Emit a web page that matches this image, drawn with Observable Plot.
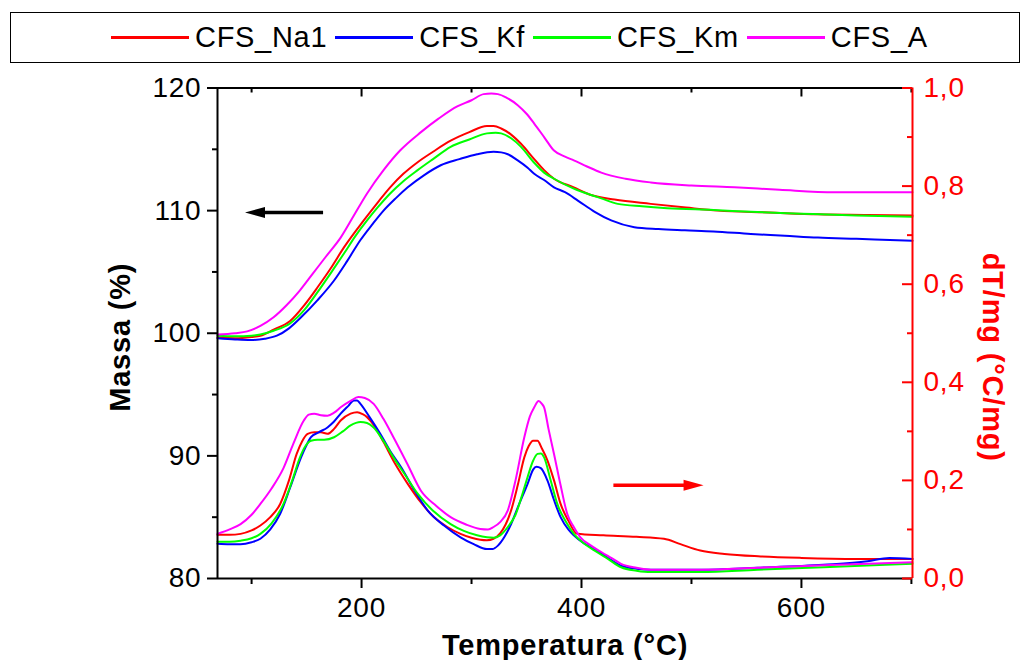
<!DOCTYPE html>
<html>
<head>
<meta charset="utf-8">
<script src="https://cdn.jsdelivr.net/npm/d3@7"></script>
<script src="https://cdn.jsdelivr.net/npm/@observablehq/plot@0.6"></script>
<style>
  html, body { margin: 0; padding: 0; background: #fff; width: 1020px; height: 660px; overflow: hidden; }
  body { position: relative; font-family: "Liberation Sans", Arial, sans-serif; }
  #legend { position: absolute; left: 10px; top: 12px; width: 1010px; height: 51px; box-sizing: border-box;
            border: 1px solid #000; display: flex; align-items: center; padding-left: 100px; }
  .item { display: flex; align-items: center; margin-right: 8px; }
  .sw { width: 78px; height: 3px; margin-right: 6px; }
  .lb { font-size: 29px; color: #000; line-height: 1; letter-spacing: 0.7px; }
  #chart { position: absolute; left: 0; top: 70px; }
  #chart svg text { letter-spacing: 0.8px; }
</style>
</head>
<body>
<div id="legend"></div>
<div id="chart"></div>
<script>
// ---- Data ----
const seriesNames = ["CFS_Na1", "CFS_Kf", "CFS_Km", "CFS_A"];
const seriesColors = ["#ff0000", "#0000ff", "#00ff00", "#ff00ff"];

// Mass (%) vs temperature (°C)  — left axis
const massNa1 = [[69,99.65],[85,99.6],[100,99.7],[108,99.8],[120,100.3],[135,101.0],[148,102.3],[160,103.75],[172,105.3],[184,107.0],[202,109.2],[215,110.7],[226,111.9],[238,113.0],[251,113.95],[265,114.8],[281,115.7],[298,116.4],[314,116.9],[320,116.9],[327,116.7],[336,116.2],[345,115.45],[357,114.2],[366,113.3],[375,112.6],[393,111.9],[408,111.3],[430,110.9],[463,110.55],[495,110.25],[524,110.0],[570,109.85],[615,109.7],[660,109.65],[701,109.6]];
const massKf = [[69,99.6],[85,99.5],[99,99.45],[112,99.55],[123,99.8],[134,100.4],[145,101.3],[160,102.7],[175,104.3],[187,105.9],[199,107.6],[210,108.9],[220,110.0],[231,111.0],[242,111.9],[257,112.9],[272,113.7],[289,114.2],[305,114.6],[320,114.8],[327,114.75],[333,114.6],[342,114.1],[351,113.5],[357,113.0],[366,112.5],[375,111.9],[385,111.5],[397,110.8],[412,109.9],[427,109.2],[448,108.65],[470,108.5],[494,108.4],[520,108.3],[554,108.1],[585,107.95],[615,107.8],[650,107.7],[701,107.55]];
const massKm = [[69,99.8],[85,99.75],[100,99.8],[108,99.9],[120,100.2],[135,100.8],[148,101.9],[160,103.35],[172,104.9],[184,106.5],[195,108.0],[205,109.2],[215,110.3],[226,111.4],[238,112.4],[251,113.3],[265,114.2],[281,115.2],[298,115.8],[314,116.3],[322,116.35],[327,116.3],[336,115.9],[345,115.2],[357,113.9],[366,113.1],[375,112.6],[393,111.8],[408,111.3],[418,111.0],[433,110.55],[455,110.35],[478,110.2],[520,110.05],[554,109.9],[600,109.75],[650,109.6],[701,109.5]];
const massA = [[69,99.9],[85,100.0],[96,100.15],[108,100.6],[120,101.3],[132,102.3],[144,103.5],[156,104.9],[168,106.3],[181,107.8],[193,109.6],[205,111.4],[220,113.3],[235,114.9],[254,116.4],[270,117.5],[287,118.5],[300,119.0],[311,119.5],[318,119.55],[324,119.5],[332,119.2],[342,118.6],[350,117.9],[357,117.1],[366,116.0],[375,114.9],[385,114.4],[393,114.1],[405,113.6],[418,113.1],[440,112.6],[463,112.3],[500,112.05],[539,111.9],[580,111.7],[630,111.5],[701,111.5]];

// dT/mg (°C/mg) vs temperature (°C) — right axis
const dtaNa1 = [[69,0.089],[80,0.089],[90,0.091],[100,0.098],[108,0.108],[117,0.125],[126,0.152],[134,0.2],[141,0.254],[146,0.28],[151,0.295],[157,0.298],[163,0.298],[169,0.295],[175,0.305],[181,0.322],[190,0.336],[196,0.339],[201,0.335],[205,0.329],[212,0.31],[220,0.278],[230,0.236],[242,0.193],[254,0.155],[266,0.125],[278,0.105],[290,0.091],[300,0.083],[308,0.079],[314,0.078],[320,0.081],[326,0.092],[331,0.11],[336,0.139],[342,0.19],[348,0.247],[352,0.27],[356,0.281],[360,0.281],[364,0.265],[369,0.241],[375,0.2],[381,0.152],[388,0.118],[396,0.091],[420,0.088],[450,0.085],[475,0.081],[490,0.07],[508,0.057],[530,0.05],[563,0.045],[600,0.042],[650,0.04],[701,0.04]];
const dtaKf = [[69,0.071],[80,0.07],[90,0.07],[100,0.074],[108,0.081],[117,0.1],[126,0.132],[135,0.185],[145,0.247],[150,0.272],[154,0.288],[161,0.298],[169,0.308],[175,0.32],[181,0.336],[188,0.352],[193,0.363],[196,0.363],[199,0.356],[207,0.33],[217,0.295],[226,0.26],[236,0.227],[248,0.18],[260,0.139],[275,0.108],[290,0.084],[302,0.07],[314,0.06],[319,0.06],[324,0.067],[330,0.085],[336,0.111],[343,0.15],[351,0.193],[356,0.222],[359,0.228],[363,0.225],[369,0.2],[375,0.16],[381,0.125],[388,0.1],[393,0.088],[402,0.072],[412,0.06],[424,0.042],[436,0.026],[450,0.02],[463,0.018],[509,0.018],[560,0.022],[620,0.028],[660,0.035],[680,0.042],[701,0.04]];
const dtaKm = [[69,0.075],[80,0.075],[90,0.077],[100,0.082],[108,0.091],[118,0.112],[129,0.152],[137,0.2],[144,0.247],[149,0.27],[154,0.281],[160,0.283],[166,0.283],[175,0.288],[183,0.3],[190,0.312],[199,0.319],[205,0.317],[211,0.308],[220,0.28],[229,0.247],[240,0.21],[251,0.173],[265,0.138],[281,0.111],[293,0.097],[305,0.088],[314,0.084],[320,0.083],[326,0.088],[333,0.105],[340,0.13],[346,0.17],[351,0.207],[356,0.24],[360,0.254],[363,0.255],[366,0.247],[372,0.2],[378,0.152],[386,0.115],[393,0.091],[402,0.072],[412,0.057],[424,0.04],[436,0.023],[450,0.016],[463,0.013],[509,0.013],[560,0.018],[620,0.023],[701,0.03]];
const dtaA = [[69,0.091],[80,0.1],[90,0.111],[100,0.13],[108,0.152],[118,0.183],[129,0.225],[138,0.275],[147.5,0.322],[152,0.334],[157,0.336],[163,0.333],[169,0.332],[175,0.338],[181,0.349],[190,0.362],[197,0.37],[203,0.368],[211,0.356],[220,0.325],[229,0.288],[242,0.232],[254,0.179],[268,0.148],[281,0.125],[295,0.11],[308,0.101],[315,0.1],[320,0.105],[326,0.115],[333,0.139],[340,0.2],[348,0.288],[353,0.33],[357,0.349],[361,0.362],[364,0.356],[366,0.349],[370,0.305],[375,0.254],[381,0.19],[387,0.132],[393,0.105],[399,0.084],[408,0.068],[418,0.054],[427,0.042],[436,0.03],[450,0.022],[463,0.018],[509,0.018],[560,0.022],[620,0.027],[701,0.033]];

// Axes
const xDomain = [69, 701];
const massDomain = [80, 120];
const dtaDomain = [0, 1];
const xMajorTicks = [200, 400, 600];
const xMinorTicks = [100, 300, 500, 700];
const massMajorTicks = [80, 90, 100, 110, 120];
const massMinorTicks = [85, 95, 105, 115];
const dtaMajorTicks = [0, 0.2, 0.4, 0.6, 0.8, 1.0];
const dtaMinorTicks = [0.1, 0.3, 0.5, 0.7, 0.9];
const xLabel = "Temperatura (°C)";
const massLabel = "Massa (%)";
const dtaLabel = "dT/mg (°C/mg)";

// Annotation arrows (data units): black → mass axis, red → dT axis
const massArrow = [{from: 165, to: 94, value: 109.85}];
const dtaArrow = [{from: 429, to: 511, value: 0.19}];

// ---- Build ----
const toMassScale = v => massDomain[0] + (v - dtaDomain[0]) / (dtaDomain[1] - dtaDomain[0]) * (massDomain[1] - massDomain[0]);
const fromMassScale = y => dtaDomain[0] + (y - massDomain[0]) / (massDomain[1] - massDomain[0]) * (dtaDomain[1] - dtaDomain[0]);

const massSeries = [massNa1, massKf, massKm, massA];
const dtaSeries = [dtaNa1, dtaKf, dtaKm, dtaA];
const rows = [];
seriesNames.forEach((name, i) => {
  massSeries[i].forEach(([t, v]) => rows.push({series: name, kind: "mass", T: t, y: v}));
  dtaSeries[i].forEach(([t, v]) => rows.push({series: name, kind: "dta", T: t, y: toMassScale(v)}));
});

const arrows = [
  ...massArrow.map(a => ({x1: a.from, x2: a.to, y: a.value, color: "#000000", dir: -90})),
  ...dtaArrow.map(a => ({x1: a.from, x2: a.to, y: toMassScale(a.value), color: "#ff0000", dir: 90}))
];

// legend
const legend = document.getElementById("legend");
seriesNames.forEach((n, i) => {
  const it = document.createElement("div");
  it.className = "item";
  it.innerHTML = `<div class="sw" style="background:${seriesColors[i]}"></div><span class="lb">${n}</span>`;
  legend.appendChild(it);
});

const fmtComma = y => fromMassScale(y).toFixed(1).replace(".", ",");

const chart = Plot.plot({
  width: 1020,
  height: 590,
  marginTop: 17.5,
  marginBottom: 82,
  marginLeft: 217,
  marginRight: 108,
  style: {fontFamily: "'Liberation Sans', Arial, sans-serif", fontSize: "28px", color: "#000", background: "#fff", overflow: "visible"},
  x: {domain: xDomain},
  y: {domain: massDomain},
  color: {domain: seriesNames, range: seriesColors},
  marks: [
    Plot.line(rows, {x: "T", y: "y", z: d => d.series + d.kind, stroke: "series", strokeWidth: 2, curve: "monotone-x"}),
    // arrows
    Plot.arrow(arrows, {x1: "x1", x2: "x2", y1: "y", y2: "y", stroke: "color", strokeWidth: 3.5, headLength: 0, insetEnd: 14, strokeLinecap: "butt"}),
    Plot.vector(arrows, {x: "x2", y: "y", rotate: "dir", length: 20, r: 5.5, anchor: "end", shape: "spike", fill: "color", stroke: "none"}),
    // frame
    Plot.ruleY([massDomain[0]], {stroke: "#000", strokeWidth: 2}),
    Plot.ruleY([massDomain[1]], {stroke: "#000", strokeWidth: 2}),
    Plot.ruleX([xDomain[0]], {stroke: "#000", strokeWidth: 2}),
    // left axis
    Plot.axisY(massMajorTicks, {anchor: "left", tickSize: 10, tickPadding: 6, strokeWidth: 2, label: null, tickFormat: d => String(d)}),
    Plot.axisY(massMinorTicks, {anchor: "left", tickSize: 5, strokeWidth: 2, fill: "none", label: null}),
    // bottom axis
    Plot.axisX(xMajorTicks, {anchor: "bottom", tickSize: 10, tickPadding: 9, strokeWidth: 2, label: null, tickFormat: d => String(d)}),
    Plot.axisX(xMinorTicks, {anchor: "bottom", tickSize: 6, strokeWidth: 2, fill: "none", label: null}),
    // top axis (inward ticks)
    Plot.axisX(xMajorTicks, {anchor: "bottom", frameAnchor: "top", tickSize: 9, strokeWidth: 2, fill: "none", label: null}),
    Plot.axisX(xMinorTicks, {anchor: "bottom", frameAnchor: "top", tickSize: 5, strokeWidth: 2, fill: "none", label: null}),
    // right axis (red, inward ticks)
    Plot.axisY(dtaMajorTicks.map(toMassScale), {anchor: "left", frameAnchor: "right", tickSize: 10, stroke: "#ff0000", strokeWidth: 2, fill: "none", label: null}),
    Plot.axisY(dtaMinorTicks.map(toMassScale), {anchor: "left", frameAnchor: "right", tickSize: 5, stroke: "#ff0000", strokeWidth: 2, fill: "none", label: null}),
    Plot.axisY(dtaMajorTicks.map(toMassScale), {anchor: "right", tickSize: 0, tickPadding: 11, fill: "#ff0000", label: null, tickFormat: fmtComma}),
    Plot.ruleX([xDomain[1]], {stroke: "#ff0000", strokeWidth: 2}),
    // axis titles
    Plot.text([massLabel], {frameAnchor: "left", dx: -97, dy: 4, rotate: -90, textAnchor: "middle", lineAnchor: "middle", fontWeight: "bold", fontSize: 29, fill: "#000"}),
    Plot.text([xLabel], {frameAnchor: "bottom", dy: 67, textAnchor: "middle", lineAnchor: "middle", fontWeight: "bold", fontSize: 29, fill: "#000"}),
    Plot.text([dtaLabel], {frameAnchor: "right", dx: 80, dy: 24, rotate: 90, textAnchor: "middle", lineAnchor: "middle", fontWeight: "bold", fontSize: 29, fill: "#ff0000"})
  ]
});
document.getElementById("chart").appendChild(chart);
</script>
</body>
</html>
